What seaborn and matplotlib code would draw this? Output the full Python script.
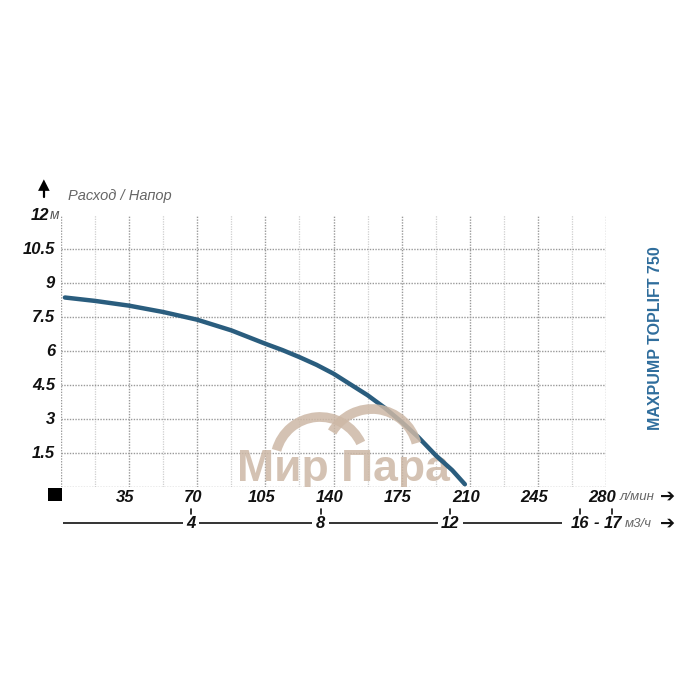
import numpy as np
import pandas as pd
import seaborn as sns
import matplotlib
matplotlib.use("Agg")
import matplotlib.pyplot as plt
import matplotlib.transforms as mtransforms
from matplotlib.patches import Arc

# ---- data ----
flow_lpm = [2, 17.5, 35, 52.5, 70, 87.5, 105, 113.8, 122.5, 131.3, 140, 157.5,
            166.2, 175, 183.8, 192.5, 201, 207.5]
head_m = [8.36, 8.21, 8.0, 7.72, 7.38, 6.91, 6.32, 6.04, 5.73, 5.39, 5.0, 4.05,
          3.5, 2.87, 2.18, 1.4, 0.74, 0.12]
x_ticks = [35, 70, 105, 140, 175, 210, 245]
x_last = 280
y_ticks = [1.5, 3, 4.5, 6, 7.5, 9, 10.5]
y_top = 12
m3h_ticks = [4, 8, 12]
m3h_last = [16, 17]

sns.set_theme(style="white")
plt.rcParams['font.family'] = ['Liberation Sans', 'DejaVu Sans']

fig = plt.figure(figsize=(7, 7), dpi=100)
W = H = 700.0


def fx(x):
    return x / W


def fy(y):
    return 1 - y / H


def pt(dx, dy):
    return mtransforms.ScaledTranslation(dx / 100, dy / 100, fig.dpi_scale_trans)


ax_l, ax_r, ax_b, ax_t = 61, 606, 487, 215
ax = fig.add_axes([fx(ax_l), fy(ax_b), (ax_r - ax_l) / W, (ax_b - ax_t) / H])
ax.set_xlim(0, x_last)
ax.set_ylim(0, y_top)
for s in ax.spines.values():
    s.set_visible(False)
ax.set_xticks([])
ax.set_yticks([])

# grid
for xv in np.arange(17.5, x_last, 35):
    ax.axvline(xv, color='#cfcfcf', lw=0.9, ls=(0, (1, 1)), zorder=1)
for xv in np.arange(0, x_last + 1, 35):
    ax.axvline(xv, color='#999999', lw=1.0, ls=(0, (1, 1)), zorder=1)
for yv in [0] + y_ticks:
    ax.axhline(yv, color='#999999', lw=1.0, ls=(0, (1, 1)), zorder=1)

# watermark
wm_color = '#cdb8a6'
wm = ax.text(fx(343), fy(481), 'Мир Пара', fontsize=32, fontweight='bold',
             color=wm_color, alpha=0.85, ha='center', va='baseline', zorder=2,
             transform=fig.transFigure)
wm.set_clip_on(True)
wm.set_clip_box(ax.bbox)
for (cx, cy, r, t1, t2) in [(320, 462, 45, 25, 165), (372, 455, 46, 15, 150)]:
    arc = Arc((fx(cx), fy(cy)), 2 * r / W, 2 * r / H, theta1=t1, theta2=t2,
              transform=fig.transFigure, color=wm_color, lw=7, alpha=0.85, zorder=2)
    fig.add_artist(arc)

# curve
df = pd.DataFrame({'flow': flow_lpm, 'head': head_m})
sns.lineplot(data=df, x='flow', y='head', ax=ax, color='#2a5d7e', lw=3.2,
             zorder=5, legend=False)
ax.set_xlabel('')
ax.set_ylabel('')

# tick labels
lab_kw = dict(fontsize=12, fontweight='bold', fontstyle='italic', color='#111111')
for xv in x_ticks:
    ax.text(xv, 0, str(xv), transform=ax.transData + pt(-4, -10),
            ha='center', va='center', **lab_kw)
ax.text(x_last, 0, str(x_last), transform=ax.transData + pt(-4, -10),
        ha='center', va='center', **lab_kw)
fig.text(fx(620), fy(497), 'л/мин', fontsize=9.5, fontstyle='italic', color='#666666',
         ha='left', va='center')
fig.text(fx(660), fy(497), '➔', fontsize=13, color='#111111', ha='left', va='center',
         family=['DejaVu Sans'])

for yv in y_ticks:
    lbl = ('%g' % yv)
    ax.text(0, yv, lbl, transform=ax.transData + pt(-6, 0),
            ha='right', va='center', **lab_kw)
ax.text(0, y_top, str(y_top), transform=ax.transData + pt(-12, 0),
        ha='right', va='center', **lab_kw)
fig.text(fx(50), fy(215), 'м', fontsize=10, fontstyle='italic', color='#555555',
         ha='left', va='center')

# zero marker
fig.patches.append(plt.Rectangle((fx(48), fy(501)), 14 / W, 13 / H, transform=fig.transFigure,
                                 facecolor='black', edgecolor='none'))

# up arrow
fig.text(fx(44), fy(185), '▲', fontsize=11, color='black', ha='center', va='center',
         family=['DejaVu Sans'])
fig.add_artist(plt.Line2D([fx(44), fx(44)], [fy(189), fy(197)], transform=fig.transFigure,
                          color='black', lw=1.6))

# title
fig.text(fx(68), fy(196), 'Расход / Напор', fontsize=10.5, fontstyle='italic',
         color='#666666', ha='left', va='center')

# vertical product name
fig.text(fx(655), fy(338), 'MAXPUMP TOPLIFT 750', fontsize=11.5, fontweight='bold',
         color='#2f6d9c', rotation=90, ha='center', va='center')

# second axis in m3/h
ax2 = fig.add_axes([fx(ax_l), fy(526), (ax_r - ax_l) / W, 6 / H])
ax2.set_xlim(0, x_last * 60 / 1000)
ax2.set_ylim(0, 1)
ax2.axis('off')
ax2.plot([0.05, 15.45], [0.5, 0.5], color='#111111', lw=1.2, solid_capstyle='butt')
for mv in m3h_ticks:
    ax2.text(mv, 0.5, str(mv), ha='center', va='center', zorder=3,
             bbox=dict(facecolor='white', edgecolor='none', pad=2.5), **lab_kw)
for mv in m3h_ticks + m3h_last:
    ax2.plot([mv, mv], [2.0, 2.8], color='#111111', lw=1.2, clip_on=False, zorder=6)
ax2.text(m3h_last[0], 0.5, str(m3h_last[0]), ha='center', va='center', **lab_kw)
ax2.text((m3h_last[0] + m3h_last[1]) / 2, 0.5, '-', ha='center', va='center', **lab_kw)
ax2.text(m3h_last[1], 0.5, str(m3h_last[1]), ha='center', va='center', **lab_kw)
fig.text(fx(625), fy(524), 'м3/ч', fontsize=9.5, fontstyle='italic', color='#666666',
         ha='left', va='center')
fig.text(fx(660), fy(524), '➔', fontsize=13, color='#111111', ha='left', va='center',
         family=['DejaVu Sans'])

fig.savefig('out.png', dpi=100, facecolor='white')
